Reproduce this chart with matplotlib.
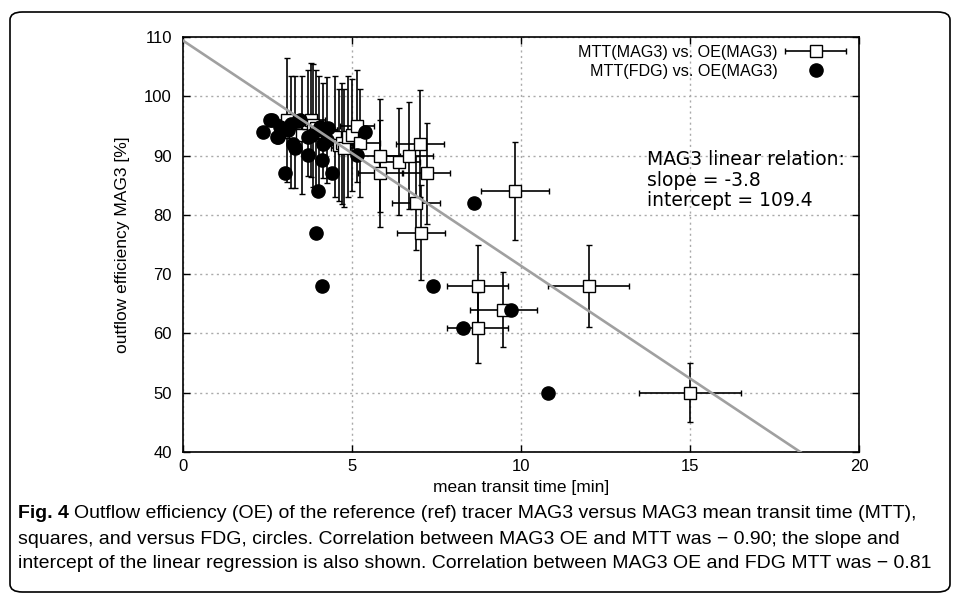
import numpy as np
import matplotlib
matplotlib.use("Agg")
import matplotlib.pyplot as plt
import matplotlib.font_manager as fm
from matplotlib.patches import FancyBboxPatch
from matplotlib.legend_handler import HandlerErrorbar

# MAG3 mean transit time vs MAG3 outflow efficiency (squares with error bars)
mag3_mtt = [3.09, 3.20, 3.31, 3.53, 3.69, 3.79, 3.86, 3.95, 4.03, 4.15, 4.25, 4.50,
            4.63, 4.71, 4.77, 4.89, 4.99, 5.14, 5.24, 5.83, 5.83, 6.40, 6.70, 7.01,
            7.21, 6.89, 7.04, 8.72, 8.72, 9.48, 9.83, 12.0, 15.0]
mag3_oe = [96.0, 94.0, 94.0, 93.5, 95.5, 96.0, 95.1, 94.6, 94.0, 94.3, 94.3, 93.2,
           91.8, 92.1, 91.3, 93.2, 93.5, 95.0, 92.1, 90.0, 87.0, 89.0, 90.0, 92.0,
           87.0, 82.0, 77.0, 68.0, 61.0, 64.0, 84.0, 68.0, 50.0]
mag3_mtt_err = [0.4, 0.3, 0.4, 0.4, 0.3, 0.4, 0.4, 0.3, 0.4, 0.4, 0.3, 0.4,
                0.4, 0.3, 0.4, 0.4, 0.4, 0.5, 0.6, 0.6, 0.65, 0.6, 0.7, 0.7,
                0.7, 0.7, 0.7, 0.9, 0.9, 1.0, 1.0, 1.2, 1.5]
mag3_oe_err = [10.5, 9.4, 9.4, 9.9, 9.0, 9.6, 10.4, 9.9, 9.4, 8.0, 9.0, 10.2,
               9.4, 10.2, 9.9, 10.2, 9.5, 9.5, 9.1, 9.5, 9.0, 9.0, 9.0, 9.0,
               8.5, 8.0, 8.0, 7.0, 6.0, 6.3, 8.3, 6.9, 5.0]

# FDG mean transit time vs MAG3 outflow efficiency (filled circles)
fdg_mtt = [2.38, 2.57, 2.62, 2.77, 2.82, 2.87, 3.02, 3.12, 3.21, 3.26, 3.31, 3.41,
           3.46, 3.71, 3.71, 3.81, 3.93, 4.00, 4.05, 4.10, 4.10, 4.15, 4.15, 4.25,
           4.30, 4.40, 5.14, 5.38, 7.41, 8.29, 8.61, 9.70, 10.81]
fdg_oe = [94.0, 96.0, 96.0, 93.2, 93.2, 94.9, 87.0, 94.3, 95.4, 92.0, 91.2, 95.8,
          96.0, 90.1, 93.2, 93.5, 77.0, 84.0, 94.9, 89.2, 68.0, 92.0, 94.3, 92.6,
          94.6, 87.0, 90.1, 94.0, 68.0, 61.0, 82.0, 64.0, 50.0]

slope = -3.8
intercept = 109.4

names = {f.name for f in fm.fontManager.ttflist}
narrow = 'Liberation Sans Narrow' if 'Liberation Sans Narrow' in names else 'Liberation Sans'

plt.rcParams['font.family'] = ['Liberation Sans', 'DejaVu Sans']

fig = plt.figure(figsize=(9.57, 6.03), dpi=100)
ax = fig.add_axes([0.1912, 0.2504, 0.7064, 0.6882])

eb_style = dict(fmt='s', ms=8.5, mfc='white', mec='black', mew=1.0,
                ecolor='black', elinewidth=1.2, capsize=2.5, capthick=1.2)
ax.errorbar(mag3_mtt, mag3_oe, xerr=mag3_mtt_err, yerr=mag3_oe_err,
            zorder=3, **eb_style)
ax.plot(fdg_mtt, fdg_oe, 'o', ms=9.5, color='black', zorder=4)

xs = np.array([0, 20])
ax.plot(xs, intercept + slope * xs, color='#a0a0a0', lw=1.9, zorder=5)

# legend proxies (gnuplot style: text right, sample to the right)
h1 = ax.errorbar([np.nan], [np.nan], xerr=[1], **eb_style)
h2, = ax.plot([np.nan], [np.nan], 'o', ms=9.5, color='black')
ax.legend([h1, h2], ['MTT(MAG3) vs. OE(MAG3)', 'MTT(FDG) vs. OE(MAG3)'],
          handler_map={h1: HandlerErrorbar(xerr_size=1.9)},
          loc='upper right', markerfirst=False, frameon=False, fontsize=11.6,
          handlelength=2.9, handletextpad=0.9, labelspacing=0.25,
          borderaxespad=0.2, bbox_to_anchor=(0.985, 1.005))

ax.text(13.73, 90.9, 'MAG3 linear relation:\nslope = -3.8\nintercept = 109.4',
        family='DejaVu Sans', fontsize=13.5, va='top', ha='left',
        linespacing=1.1, zorder=6)

ax.set_xlim(0, 20)
ax.set_ylim(40, 110)
ax.set_xticks([0, 5, 10, 15, 20])
ax.set_yticks(range(40, 111, 10))
ax.tick_params(direction='in', top=True, right=True, length=5, width=1,
               labelsize=12)
ax.tick_params(axis='x', pad=5)
ax.tick_params(axis='y', pad=8)
ax.grid(True, color='#aaaaaa', linestyle=(0, (1.5, 2.5)), lw=1)
for s in ax.spines.values():
    s.set_linewidth(1.2)

ax.set_xlabel('mean transit time [min]', family=narrow, fontsize=12.5, labelpad=4)
ax.set_ylabel('outflow efficiency MAG3 [%]', fontsize=12.5, labelpad=10)

# rounded frame around figure panel
box = FancyBboxPatch((10 / 957, 11 / 603), 940 / 957, 580 / 603,
                     boxstyle='round,pad=0,rounding_size=0.013',
                     transform=fig.transFigure, fill=False, ec='black', lw=1.2)
fig.patches.append(box)

# caption
cap_lines = [
    'Outflow efficiency (OE) of the reference (ref) tracer MAG3 versus MAG3 mean transit time (MTT),',
    'squares, and versus FDG, circles. Correlation between MAG3 OE and MTT was \u2212 0.90; the slope and',
    'intercept of the linear regression is also shown. Correlation between MAG3 OE and FDG MTT was \u2212 0.81',
]
cap_y = [1 - 514 / 603, 1 - 539 / 603, 1 - 564 / 603]
fig.canvas.draw()
t = fig.text(18 / 957, cap_y[0], 'Fig. 4', family=narrow, weight='bold',
             fontsize=14, va='center', ha='left')
bb = t.get_window_extent(fig.canvas.get_renderer())
fig.text((bb.x1 + 5) / 957, cap_y[0], cap_lines[0], family=narrow, fontsize=14,
         va='center', ha='left')
fig.text(18 / 957, cap_y[1], cap_lines[1], family=narrow, fontsize=14,
         va='center', ha='left')
fig.text(18 / 957, cap_y[2], cap_lines[2], family=narrow, fontsize=14,
         va='center', ha='left')

fig.savefig('out.png', dpi=100)
